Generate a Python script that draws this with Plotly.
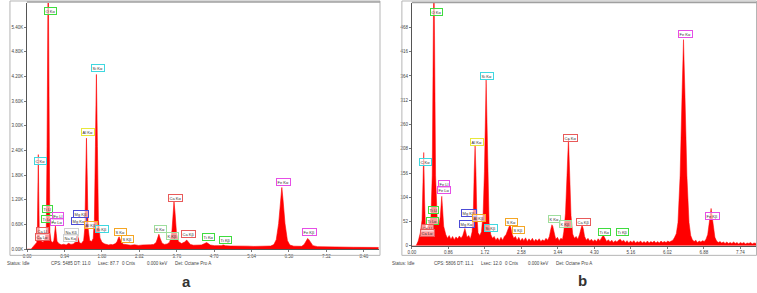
import plotly.graph_objects as go

# ---------------- DATA ----------------
# Panel a spectrum (energy keV, counts)
spec_a = [
    (0.00, 0), (0.10, 0), (0.15, 60), (0.20, 110), (0.24, 160),
    (0.255, 350), (0.27, 1400), (0.28, 2300), (0.29, 1400), (0.305, 320),
    (0.33, 210), (0.345, 270), (0.36, 190), (0.40, 170), (0.44, 230),
    (0.48, 420), (0.50, 2500), (0.515, 6000), (0.525, 6600), (0.535, 6000), (0.55, 2500), (0.57, 420),
    (0.60, 190), (0.64, 160),
    (0.67, 210), (0.69, 390), (0.71, 560), (0.73, 380), (0.75, 190),
    (0.80, 130), (0.86, 105), (0.92, 120), (0.98, 100), (1.04, 140), (1.10, 115), (1.16, 125),
    (1.21, 170), (1.24, 290), (1.26, 360), (1.28, 280), (1.31, 160),
    (1.36, 135), (1.42, 210),
    (1.45, 520), (1.47, 1700), (1.49, 2700), (1.51, 1700), (1.53, 520),
    (1.57, 210), (1.62, 185), (1.66, 260),
    (1.69, 720), (1.715, 2500), (1.74, 4250), (1.765, 2500), (1.79, 720),
    (1.83, 270), (1.88, 165), (1.95, 125), (2.00, 110), (2.05, 100), (2.10, 115), (2.15, 105), (2.22, 135),
    (2.26, 185), (2.29, 265), (2.31, 300), (2.33, 255), (2.37, 165),
    (2.42, 120), (2.50, 105), (2.60, 95), (2.70, 105), (2.80, 90), (2.90, 100), (3.00, 95), (3.10, 105), (3.18, 115), (3.24, 160),
    (3.28, 270), (3.31, 360), (3.34, 265), (3.39, 145),
    (3.45, 115), (3.52, 125), (3.58, 170), (3.61, 270),
    (3.64, 460), (3.665, 900), (3.69, 1150), (3.715, 900), (3.75, 420),
    (3.80, 185), (3.88, 135), (3.96, 175),
    (3.99, 205), (4.01, 220), (4.04, 185), (4.10, 115),
    (4.18, 95), (4.28, 90), (4.38, 100), (4.46, 135),
    (4.49, 155), (4.51, 160), (4.54, 140), (4.60, 100),
    (4.70, 85), (4.80, 80), (4.88, 85), (4.93, 100), (4.98, 82), (5.10, 75), (5.25, 78), (5.40, 70),
    (5.55, 72), (5.70, 66), (5.85, 68), (6.00, 65), (6.12, 75), (6.20, 110),
    (6.26, 230), (6.32, 620), (6.37, 1200), (6.40, 1500), (6.43, 1200), (6.48, 620), (6.54, 210),
    (6.60, 100), (6.70, 72), (6.80, 65), (6.90, 68), (6.96, 110),
    (7.00, 190), (7.03, 245), (7.05, 260), (7.08, 230), (7.12, 160), (7.18, 85),
    (7.30, 60), (7.45, 55), (7.60, 52), (7.80, 50), (8.00, 47), (8.20, 45), (8.40, 43), (8.60, 41), (8.835, 40),
]
energy_a = [p[0] for p in spec_a]
counts_a = [p[1] for p in spec_a]

# Panel b spectrum (energy keV, counts)
spec_b = [
    (0.00, 0), (0.10, 0), (0.15, 10), (0.20, 28), (0.24, 55),
    (0.26, 110), (0.28, 200), (0.30, 100), (0.32, 42),
    (0.35, 36), (0.40, 46), (0.45, 62),
    (0.48, 150), (0.505, 450), (0.52, 600), (0.535, 450), (0.56, 150), (0.60, 52),
    (0.64, 46),
    (0.67, 62), (0.69, 92), (0.705, 106), (0.72, 86), (0.75, 42),
    (0.80, 24), (0.84, 16), (0.88, 22), (0.92, 14), (0.96, 20), (1.00, 13), (1.04, 19), (1.08, 15),
    (1.12, 21), (1.16, 16), (1.20, 22),
    (1.23, 30), (1.25, 37), (1.27, 30), (1.30, 18), (1.34, 22), (1.38, 15), (1.42, 30),
    (1.45, 80), (1.47, 160), (1.49, 216), (1.51, 160), (1.53, 70), (1.56, 28), (1.60, 22), (1.64, 30), (1.68, 70),
    (1.71, 160), (1.73, 280), (1.75, 357), (1.77, 270), (1.79, 140), (1.82, 50), (1.86, 24), (1.90, 16),
    (1.94, 20), (1.98, 12), (2.02, 17), (2.06, 11), (2.10, 18), (2.14, 12), (2.18, 20), (2.22, 24),
    (2.26, 34), (2.29, 42), (2.31, 45), (2.33, 40), (2.36, 26), (2.40, 16), (2.44, 20), (2.48, 12),
    (2.52, 18), (2.56, 10), (2.60, 16), (2.64, 11), (2.68, 17), (2.72, 9), (2.76, 15), (2.80, 10),
    (2.84, 16), (2.88, 9), (2.92, 14), (2.96, 10), (3.00, 15), (3.04, 9), (3.08, 13), (3.12, 10),
    (3.16, 16), (3.20, 12), (3.24, 20),
    (3.27, 34), (3.30, 45), (3.32, 42), (3.35, 26), (3.39, 14), (3.43, 18), (3.47, 11), (3.51, 16),
    (3.55, 14), (3.58, 30),
    (3.62, 70), (3.655, 150), (3.69, 230), (3.72, 150), (3.75, 65), (3.79, 25), (3.83, 16), (3.87, 20),
    (3.91, 14), (3.95, 24),
    (3.98, 38), (4.01, 45), (4.04, 36), (4.07, 20), (4.11, 12), (4.15, 16), (4.19, 10), (4.23, 14),
    (4.27, 9), (4.31, 13), (4.35, 9), (4.39, 15), (4.43, 11),
    (4.47, 18), (4.51, 23), (4.55, 16), (4.59, 9), (4.63, 13), (4.67, 8), (4.71, 12), (4.75, 7),
    (4.79, 11), (4.83, 8), (4.87, 12), (4.91, 14), (4.95, 9), (4.99, 12), (5.03, 7), (5.07, 11),
    (5.11, 6), (5.15, 10), (5.19, 7), (5.23, 11), (5.27, 6), (5.31, 9), (5.35, 7), (5.39, 10),
    (5.43, 6), (5.47, 9), (5.51, 6), (5.55, 10), (5.59, 6), (5.63, 9), (5.67, 7), (5.71, 10),
    (5.75, 6), (5.79, 9), (5.83, 6), (5.87, 10), (5.91, 7), (5.95, 9), (5.99, 7), (6.03, 10),
    (6.07, 8), (6.11, 11), (6.15, 12), (6.19, 18), (6.23, 26),
    (6.27, 50), (6.32, 150), (6.37, 340), (6.40, 442), (6.43, 340), (6.48, 150), (6.53, 50),
    (6.57, 22), (6.61, 13), (6.65, 9), (6.69, 12), (6.73, 7), (6.77, 10), (6.81, 8), (6.85, 11),
    (6.89, 9), (6.93, 14), (6.97, 24),
    (7.00, 45), (7.03, 68), (7.05, 80), (7.07, 66), (7.10, 40), (7.14, 18), (7.18, 10), (7.22, 7),
    (7.26, 9), (7.30, 6), (7.34, 8), (7.38, 5), (7.42, 8), (7.46, 5), (7.50, 7), (7.54, 5),
    (7.58, 8), (7.62, 5), (7.66, 7), (7.70, 4), (7.74, 7), (7.78, 5), (7.82, 7), (7.86, 4),
    (7.90, 6), (7.94, 5), (7.98, 7), (8.02, 4), (8.06, 6), (8.11, 5),
]
energy_b = [p[0] for p in spec_b]
counts_b = [p[1] for p in spec_b]

# Tick labels
xticks_a = [0.00, 0.94, 1.88, 2.82, 3.76, 4.70, 5.64, 6.58, 7.52, 8.46]
yticks_a = [0, 600, 1200, 1800, 2400, 3000, 3600, 4200, 4800, 5400]
yticktext_a = ["0.00K", "0.60K", "1.20K", "1.80K", "2.40K", "3.00K", "3.60K", "4.20K", "4.80K", "5.40K"]
xticks_b = [0.00, 0.86, 1.72, 2.58, 3.44, 4.30, 5.16, 6.02, 6.88, 7.74]
yticks_b = [0, 52, 104, 156, 208, 260, 312, 364, 416, 468]

# Peak labels: (text, energy, counts, colour key)
labels_a = [
    ("O Kα", 0.585, 5784, "green"), ("Si Kα", 1.79, 4403, "cyan"), ("Al Kα", 1.525, 2853, "yellow"),
    ("C Kα", 0.335, 2155, "cyan"), ("Ti Ll", 0.50, 981, "green"), ("Ti Lα", 0.50, 723, "green"),
    ("Fe Ll", 0.775, 795, "magenta"), ("Fe Lα", 0.75, 668, "magenta"),
    ("Ca Ll", 0.39, 434, "red"), ("Ca Lα", 0.39, 299, "red"),
    ("Na Kβ", 1.125, 419, "gray"), ("Na Kα", 1.085, 265, "gray"),
    ("Mg Kβ", 1.35, 844, "blue"), ("Mg Kα", 1.31, 675, "blue"),
    ("Al Kβ", 1.60, 578, "orange"), ("Si Kβ", 1.885, 482, "cyan"),
    ("S Kα", 2.35, 419, "orange"), ("S Kβ", 2.52, 258, "orange"),
    ("K Kα", 3.36, 482, "lgreen"), ("K Kβ", 3.64, 313, "lgreen"),
    ("Ca Kα", 3.735, 1246, "red"), ("Ca Kβ", 4.06, 361, "red"),
    ("Ti Kα", 4.55, 306, "green"), ("Ti Kβ", 4.975, 227, "green"),
    ("Fe Kα", 6.44, 1639, "magenta"), ("Fe Kβ", 7.10, 419, "magenta"),
]
labels_b = [
    ("O Kα", 0.57, 502, "green"), ("Fe Kα", 6.445, 453, "magenta"), ("Si Kα", 1.78, 365, "cyan"),
    ("Ca Kα", 3.733, 231, "red"), ("Al Kα", 1.53, 223, "yellow"), ("C Kα", 0.328, 179, "cyan"),
    ("Fe Ll", 0.757, 132, "magenta"), ("Fe Lα", 0.757, 120, "magenta"),
    ("Ti Ll", 0.509, 76, "green"), ("Ti Lα", 0.492, 54, "green"),
    ("Ca Ll", 0.375, 39, "red"), ("Ca Lα", 0.375, 28, "red"),
    ("Mg Kβ", 1.343, 71, "blue"), ("Mg Kα", 1.296, 47, "blue"),
    ("Al Kβ", 1.587, 60, "orange"), ("Si Kβ", 1.875, 38, "cyan"),
    ("S Kα", 2.343, 52, "orange"), ("S Kβ", 2.508, 33, "orange"),
    ("K Kα", 3.358, 57, "lgreen"), ("K Kβ", 3.626, 46, "lgreen"),
    ("Ca Kβ", 4.047, 52, "red"), ("Ti Kα", 4.547, 30, "green"), ("Ti Kβ", 4.961, 29, "green"),
    ("Fe Kβ", 7.094, 64, "magenta"),
]

status_a = ["Status: Idle", "CPS: 5485", "DT: 11.0", "Lsec: 87.7", "0 Cnts", "0.000 keV", "Det: Octane Pro A"]
status_b = ["Status: Idle", "CPS: 5806", "DT: 11.1", "Lsec: 12.0", "0 Cnts", "0.000 keV", "Det: Octane Pro A"]

# ---------------- STYLE ----------------
W, H = 757, 293
box_colors = {
    "green": "#3fdc3f", "cyan": "#3fd8e0", "yellow": "#e8e83a", "magenta": "#e64ee6",
    "blue": "#4b4bd6", "orange": "#f5a623", "red": "#e85a5a", "lgreen": "#9ede9e", "gray": "#cfcfcf",
}
RED = "#ff0000"
TICKFONT = dict(family="Arial, Liberation Sans, sans-serif", size=4.5, color="#444")


def px(x):
    return x / W


def py(y):
    return 1 - y / H


fig = go.Figure()
fig.add_trace(go.Scatter(x=energy_a, y=counts_a, mode="lines", fill="tozeroy",
                         line=dict(color=RED, width=0.6), fillcolor=RED,
                         xaxis="x", yaxis="y", hoverinfo="skip", showlegend=False))
fig.add_trace(go.Scatter(x=energy_b, y=counts_b, mode="lines", fill="tozeroy",
                         line=dict(color=RED, width=0.5), fillcolor=RED,
                         xaxis="x2", yaxis="y2", hoverinfo="skip", showlegend=False))

axis_common = dict(showgrid=False, zeroline=False, showline=True, linecolor="#555", linewidth=1,
                   ticks="outside", ticklen=2, tickcolor="#777", tickfont=TICKFONT, fixedrange=True)

fig.update_layout(
    width=W, height=H, margin=dict(l=0, r=0, t=0, b=0),
    paper_bgcolor="white", plot_bgcolor="white", showlegend=False,
    xaxis=dict(domain=[px(23.3), px(376.7)], range=[0, 8.835], anchor="y",
               tickvals=xticks_a, ticktext=[f"{v:.2f}" for v in xticks_a], **axis_common),
    yaxis=dict(domain=[py(251.7), py(3)], range=[0, 5990], anchor="x",
               tickvals=yticks_a, ticktext=yticktext_a, **axis_common),
    xaxis2=dict(domain=[px(410), px(756)], range=[0, 8.108], anchor="y2",
                tickvals=xticks_b, ticktext=[f"{v:.2f}" for v in xticks_b], **axis_common),
    yaxis2=dict(domain=[py(248.3), py(3)], range=[0, 520.6], anchor="x2",
                tickvals=yticks_b, ticktext=[str(v) for v in yticks_b], **axis_common),
)

shapes = []
# panel frames
for (x0, x1) in [(6, 378), (400, 756.5)]:
    shapes.append(dict(type="rect", xref="paper", yref="paper", x0=px(x0), x1=px(x1),
                       y0=py(258), y1=py(1), line=dict(color="#b5b5b5", width=1)))
# gray top lines above plot areas
shapes.append(dict(type="line", xref="paper", yref="paper", x0=px(23), x1=px(378), y0=py(2), y1=py(2),
                   line=dict(color="#a0a0a0", width=1.5)))
shapes.append(dict(type="line", xref="paper", yref="paper", x0=px(410), x1=px(756.5), y0=py(2.5), y1=py(2.5),
                   line=dict(color="#a0a0a0", width=1.5)))
fig.update_layout(shapes=shapes)

annotations = []
for labels, xr, yr in [(labels_a, "x", "y"), (labels_b, "x2", "y2")]:
    for text, e, c, col in labels:
        annotations.append(dict(x=e, y=c, xref=xr, yref=yr, text=text, showarrow=False,
                                font=dict(family="Arial, Liberation Sans, sans-serif", size=4, color="#333"),
                                bgcolor="rgba(255,255,255,0.6)", bordercolor=box_colors[col],
                                borderwidth=1, borderpad=0.6))

# status lines
status_x_a = [1, 45, 68, 92, 117, 142, 170]
status_x_b = [388, 430, 453, 478, 502, 525, 553]
for items, xs in [(status_a, status_x_a), (status_b, status_x_b)]:
    for t, x in zip(items, xs):
        annotations.append(dict(x=px(x), y=py(266.7), xref="paper", yref="paper", text=t,
                                showarrow=False, xanchor="left", yanchor="middle",
                                font=dict(family="Arial, Liberation Sans, sans-serif", size=4.5, color="#444")))

for t, x, y in [("a", 183, 284.5), ("b", 581.5, 283)]:
    annotations.append(dict(x=px(x), y=py(y), xref="paper", yref="paper", text=f"<b>{t}</b>",
                            showarrow=False, xanchor="center", yanchor="middle",
                            font=dict(family="Arial, Liberation Sans, sans-serif", size=15, color="#333")))

fig.update_layout(annotations=annotations)
fig.write_html("out.html", config={"displayModeBar": False},
               post_script="document.body.style.margin='0';document.body.style.overflow='hidden';")
